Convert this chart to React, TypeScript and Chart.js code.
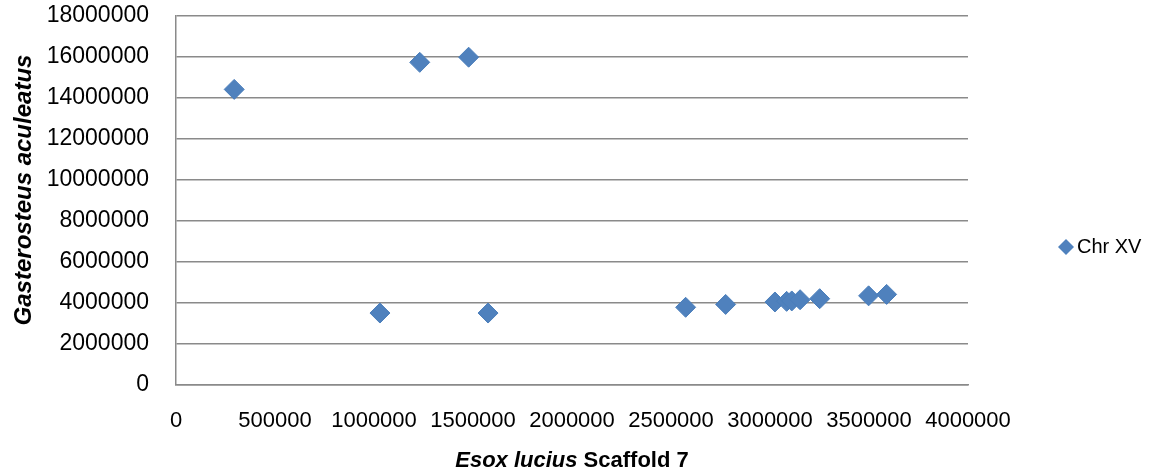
import React, { useEffect, useRef } from "react";
import { Chart, registerables } from "chart.js";

Chart.register(...registerables);

const seriesName = "Chr XV";
const xTitleItalic = "Esox lucius";
const xTitleRest = " Scaffold 7";
const yTitle = "Gasterosteus aculeatus";

const esoxPositions = [294000, 1231000, 1478000, 1030000, 1576000, 2574000, 2776000, 3025000, 3084000, 3110000, 3152000, 3251000, 3498000, 3589000];
const gasterPositions = [14420000, 15740000, 15990000, 3510000, 3510000, 3790000, 3930000, 4050000, 4080000, 4100000, 4160000, 4210000, 4350000, 4420000];

const xMin = 0;
const xMax = 4000000;
const xStep = 500000;
const yMin = 0;
const yMax = 18000000;
const yStep = 2000000;

const MARKER = "#4F81BD";
const MARKER_BORDER = "#4A7EBB";
const GRID = "#8a8a8a";
const FONT = "'Liberation Sans', Arial, sans-serif";

export default function App() {
  const ref = useRef<HTMLCanvasElement | null>(null);

  useEffect(() => {
    const canvas = ref.current;
    if (!canvas) return;

    const titlesAndLegend = {
      id: "titlesAndLegend",
      afterDraw(chart: any) {
        const ctx = chart.ctx;
        const area = chart.chartArea;
        ctx.save();
        ctx.fillStyle = "#000";
        const italicFont = `italic bold 22px ${FONT}`;
        const boldFont = `bold 22px ${FONT}`;
        ctx.font = italicFont;
        const w1 = ctx.measureText(xTitleItalic).width;
        ctx.font = boldFont;
        const w2 = ctx.measureText(xTitleRest).width;
        const cx = (area.left + area.right) / 2;
        const startX = cx - (w1 + w2) / 2;
        ctx.textBaseline = "middle";
        ctx.textAlign = "left";
        ctx.font = italicFont;
        ctx.fillText(xTitleItalic, startX, 461);
        ctx.font = boldFont;
        ctx.fillText(xTitleRest, startX + w1, 461);

        ctx.save();
        ctx.translate(24, 190);
        ctx.rotate(-Math.PI / 2);
        ctx.font = `italic bold 24px ${FONT}`;
        ctx.textAlign = "center";
        ctx.textBaseline = "middle";
        ctx.fillText(yTitle, 0, 0);
        ctx.restore();

        const lx = 1066;
        const ly = 247;
        const r = 8;
        ctx.beginPath();
        ctx.moveTo(lx, ly - r);
        ctx.lineTo(lx + r, ly);
        ctx.lineTo(lx, ly + r);
        ctx.lineTo(lx - r, ly);
        ctx.closePath();
        ctx.fillStyle = MARKER;
        ctx.fill();
        ctx.fillStyle = "#000";
        ctx.font = `20px ${FONT}`;
        ctx.textAlign = "left";
        ctx.textBaseline = "middle";
        ctx.fillText(seriesName, 1077, ly);
        ctx.restore();
      },
    };

    const chart = new Chart(canvas, {
      type: "scatter",
      data: {
        datasets: [
          {
            label: seriesName,
            data: esoxPositions.map((x, i) => ({ x, y: gasterPositions[i] })),
            pointStyle: "rectRot",
            pointRadius: 10,
            pointBackgroundColor: MARKER,
            pointBorderColor: MARKER_BORDER,
            pointBorderWidth: 1,
          },
        ],
      },
      options: {
        animation: false,
        responsive: false,
        devicePixelRatio: 1,
        layout: { padding: { left: 0, top: 16, right: 196, bottom: 0 } },
        plugins: {
          legend: { display: false },
          tooltip: { enabled: false },
          title: { display: false },
        },
        scales: {
          x: {
            type: "linear",
            min: xMin,
            max: xMax,
            afterFit(scale: any) {
              scale.height = 90;
              scale.paddingLeft = 0;
              scale.paddingRight = 0;
            },
            ticks: {
              stepSize: xStep,
              autoSkip: false,
              maxRotation: 0,
              minRotation: 0,
              padding: 23,
              color: "#000",
              font: { family: FONT, size: 22 },
              callback: (v: any) => String(v),
            },
            grid: { display: false, drawTicks: false },
            border: { display: true, color: GRID, width: 1.5 },
          },
          y: {
            type: "linear",
            min: yMin,
            max: yMax,
            afterFit(scale: any) {
              scale.width = 176;
              scale.paddingTop = 0;
              scale.paddingBottom = 0;
            },
            ticks: {
              stepSize: yStep,
              padding: 27,
              color: "#000",
              font: { family: FONT, size: 23 },
              callback: (v: any) => String(v),
            },
            grid: { display: true, drawTicks: false, color: GRID, lineWidth: 1.5 },
            border: { display: true, color: GRID, width: 1.5 },
          },
        },
      },
      plugins: [titlesAndLegend],
    });

    return () => chart.destroy();
  }, []);

  return (
    <div style={{ position: "fixed", left: 0, top: 0, width: 1164, height: 475, background: "#fff" }}>
      <canvas ref={ref} width={1164} height={475} style={{ width: 1164, height: 475, display: "block" }} />
    </div>
  );
}
